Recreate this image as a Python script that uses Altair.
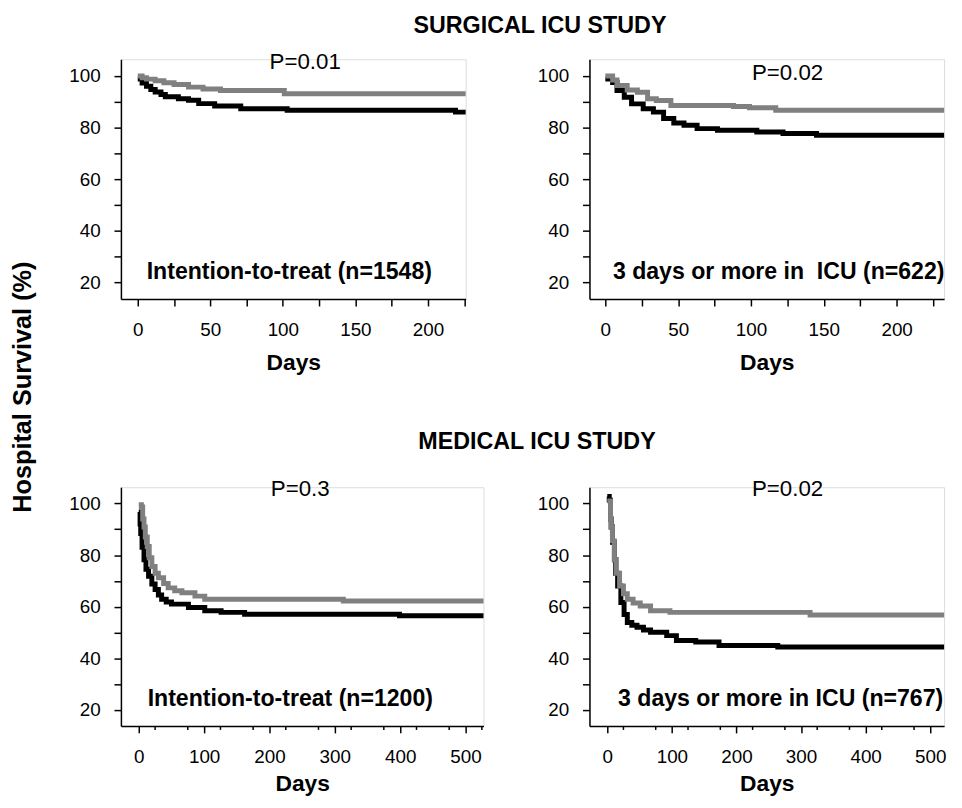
import altair as alt
import pandas as pd

FONT = "Liberation Sans"
GRAY = "#808080"
BLACK = "#000000"

# ---------------- data ----------------
# Surgical ICU, intention-to-treat
tl_gray_days = [0, 3, 6, 12, 18, 25, 35, 45, 57, 101, 226]
tl_gray_surv = [100.0, 99.3, 98.8, 98.2, 97.4, 96.7, 95.7, 95.0, 94.4, 93.1, 93.1]
tl_black_days = [0, 3, 6, 9, 12, 16, 19, 28, 35, 42, 53, 71, 103, 219, 226]
tl_black_surv = [98.8, 97.3, 96.0, 94.8, 93.8, 92.8, 92.0, 91.2, 90.6, 89.3, 88.4, 87.3, 86.7, 86.0, 86.0]

# Surgical ICU, 3 days or more
tr_gray_days = [0, 5, 8, 15, 22, 29, 35, 45, 88, 99, 117, 232.6]
tr_gray_surv = [100.0, 98.5, 96.3, 94.6, 93.7, 91.2, 90.5, 88.6, 88.2, 87.7, 86.7, 86.7]
tr_black_days = [0, 5, 8, 13, 18, 26, 33, 40, 47, 54, 63, 77, 104, 122, 145, 232.6]
tr_black_surv = [98.8, 97.5, 94.4, 91.8, 89.2, 87.3, 86.0, 83.5, 81.8, 80.9, 79.6, 79.0, 78.3, 77.7, 77.0, 77.0]

# Medical ICU, intention-to-treat
bl_gray_days = [0, 4, 6, 8, 10, 13, 16, 20, 25, 30, 38, 45, 55, 66, 86, 101, 313, 527.5]
bl_gray_surv = [99.5, 98.6, 94.0, 90.9, 87.0, 83.3, 79.0, 75.6, 73.0, 71.2, 69.0, 67.3, 66.2, 65.4, 64.1, 62.9, 62.2, 62.2]
bl_black_days = [0, 2, 3, 5, 8, 11, 15, 20, 25, 30, 35, 42, 50, 76, 101, 126, 162, 399, 527.5]
bl_black_surv = [96.7, 92.0, 88.4, 83.0, 78.2, 74.5, 71.8, 68.8, 66.7, 64.5, 62.9, 61.8, 61.0, 59.7, 58.4, 57.8, 57.1, 56.5, 56.5]

# Medical ICU, 3 days or more
br_gray_days = [0, 5, 6, 8, 11, 14, 19, 25, 31, 40, 51, 67, 97, 314, 521.5]
br_gray_surv = [101.0, 94.0, 90.9, 85.5, 78.2, 73.0, 68.0, 65.0, 62.9, 61.4, 60.3, 58.4, 57.8, 56.8, 56.8]
br_black_days = [0, 3, 5, 6, 8, 11, 13, 16, 21, 26, 31, 38, 46, 56, 67, 92, 107, 137, 173, 264, 521.5]
br_black_surv = [102.7, 101.3, 94.0, 90.9, 85.0, 78.2, 73.0, 68.0, 61.6, 57.0, 53.9, 52.8, 52.0, 51.0, 50.1, 48.8, 46.9, 46.3, 45.0, 44.4, 44.4]

p_values = ["P=0.01", "P=0.02", "P=0.3", "P=0.02"]
panel_labels = ["Intention-to-treat (n=1548)", "3 days or more in \u00a0ICU (n=622)",
                "Intention-to-treat (n=1200)", "3 days or more in ICU (n=767)"]
section_titles = ["SURGICAL ICU STUDY", "MEDICAL ICU STUDY"]
y_title = "Hospital Survival (%)"
x_title = "Days"
y_ticks = [20, 30, 40, 50, 60, 70, 80, 90, 100]
x_ticks_top = [0, 25, 50, 75, 100, 125, 150, 175, 200, 225]
x_ticks_bottom_major = [0, 50, 100, 150, 200, 250, 300, 350, 400, 450, 500]
x_ticks_bottom_minor_left = [25, 75, 125, 175, 225, 275, 325, 375, 425, 475, 525]
x_ticks_bottom_minor_right = [25, 75, 125, 175, 225, 275, 325, 375, 425, 475]


def text_layer(txt, x, y, size, bold=False, angle=0):
    return alt.Chart(pd.DataFrame({"t": [txt]})).mark_text(
        font=FONT, fontSize=size, fontWeight="bold" if bold else "normal",
        align="center", baseline="middle", color="black", angle=angle
    ).encode(x=alt.value(x), y=alt.value(y), text="t:N")


def panel(gd, gv, bd, bv, xdom, ydom, w, h, xticks, label_every, minor,
          ptxt, ppos, atxt, apos, lpad, tpad, extra=None):
    df = pd.concat([
        pd.DataFrame({"day": bd, "surv": bv, "arm": "black"}),
        pd.DataFrame({"day": gd, "surv": gv, "arm": "gray"}),
    ])
    xscale = alt.Scale(domain=xdom, nice=False, zero=False)
    xaxis = alt.Axis(
        values=xticks, labelExpr=f"datum.value % {label_every} === 0 ? datum.label : ''",
        tickSize=7, tickWidth=1.5, tickColor="black", domainColor="black",
        domainWidth=1.5, labelFont=FONT, labelFontSize=19, labelColor="black",
        labelPadding=lpad, labelFlush=False, labelOverlap=False, grid=False,
        title=x_title, titleFont=FONT, titleFontSize=23, titleFontWeight="bold",
        titleColor="black", titlePadding=tpad,
    )
    yaxis = alt.Axis(
        values=y_ticks, labelExpr="datum.value % 20 === 0 ? datum.label : ''",
        tickSize=7, tickWidth=1.5, tickColor="black", domainColor="black",
        domainWidth=1.5, labelFont=FONT, labelFontSize=19, labelColor="black",
        labelPadding=14, labelFlush=False, labelOverlap=False, grid=False, title=None,
    )
    lines = alt.Chart(df).mark_line(interpolate="step-after", strokeWidth=5).encode(
        x=alt.X("day:Q", scale=xscale, axis=xaxis),
        y=alt.Y("surv:Q", scale=alt.Scale(domain=ydom, nice=False, zero=False), axis=yaxis),
        color=alt.Color("arm:N", scale=alt.Scale(domain=["black", "gray"], range=[BLACK, GRAY]),
                        legend=None),
        order=alt.Order("arm:N"),
    )
    layers = [lines]
    if minor:
        layers.append(
            alt.Chart(pd.DataFrame({"d": minor})).mark_rule(color="black", strokeWidth=1.5)
            .encode(x=alt.X("d:Q", scale=xscale), y=alt.value(h), y2=alt.value(h + 4))
        )
    layers += [text_layer(ptxt, ppos[0], ppos[1], 22.5),
               text_layer(atxt, apos[0], apos[1], 23.3, bold=True)]
    if extra:
        layers += extra
    return alt.layer(*layers).properties(width=w, height=h)


tl = panel(tl_gray_days, tl_gray_surv, tl_black_days, tl_black_surv,
           [-11.6, 226.0], [13.5, 106.5], 348, 242, x_ticks_top, 50, None,
           p_values[0], (186, 3), panel_labels[0], (170, 215), 15, 12,
           extra=[text_layer(section_titles[0], 423, -34, 23.5, bold=True),
                  text_layer(y_title, -99, 331, 25.5, bold=True, angle=270)])
tr = panel(tr_gray_days, tr_gray_surv, tr_black_days, tr_black_surv,
           [-10.9, 232.6], [13.5, 106.5], 358, 242, x_ticks_top, 50, None,
           p_values[1], (200, 14), panel_labels[1], (191, 215), 15, 12)
bl = panel(bl_gray_days, bl_gray_surv, bl_black_days, bl_black_surv,
           [-27.3, 527.5], [13.8, 106.3], 366, 241, x_ticks_bottom_major, 100,
           x_ticks_bottom_minor_left,
           p_values[2], (181, 2), panel_labels[2], (171, 214), 15, 6,
           extra=[text_layer(section_titles[1], 420, -45.5, 23.5, bold=True)])
br = panel(br_gray_days, br_gray_surv, br_black_days, br_black_surv,
           [-27.6, 521.5], [13.8, 106.3], 358, 241, x_ticks_bottom_major, 100,
           x_ticks_bottom_minor_right,
           p_values[3], (200, 2), panel_labels[3], (193, 214), 15, 6)

top = alt.hconcat(tl, tr, spacing=125, bounds="flush")
bottom = alt.hconcat(bl, br, spacing=107, bounds="flush")
chart = alt.vconcat(top, bottom, spacing=432, bounds="flush").properties(
    padding={"left": 2, "top": 1, "right": -1, "bottom": 0}
).configure_view(stroke=None).configure(background="white")

chart.save("out.html", embed_options={"renderer": "svg", "actions": False})
